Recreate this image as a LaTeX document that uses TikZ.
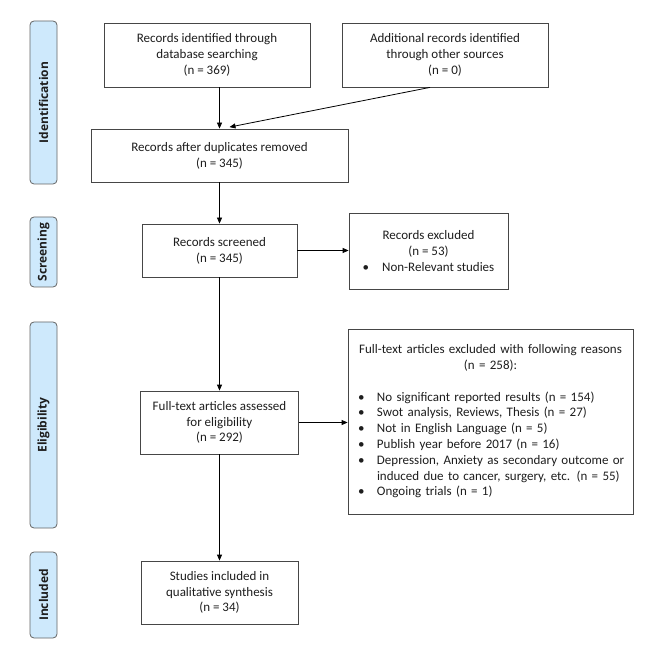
\documentclass[tikz,border=0pt]{standalone}
\usepackage{fontspec}
\setmainfont{Carlito}
\newfontfamily\barfont{Open Sans}
\usetikzlibrary{arrows.meta,calc}
\definecolor{barfill}{RGB}{206,233,252}
\definecolor{barline}{RGB}{100,100,100}
\definecolor{boxline}{RGB}{70,70,70}
\definecolor{txt}{RGB}{30,30,30}
\newcommand{\pbul}{\makebox[19pt][l]{\textbullet}}
\begin{document}
\begin{tikzpicture}[x=1pt,y=-1pt,
  every node/.style={font=\fontsize{13}{15.8}\selectfont, text=txt},
  box/.style={draw=boxline, line width=0.8pt, fill=white, inner sep=0pt, align=center},
  phase/.style={draw=barline, line width=0.8pt, fill=barfill, rounded corners=4pt, rotate=90,
     minimum height=27pt, inner sep=0pt, font=\barfont\bfseries\fontsize{12}{14}\selectfont},
  arr/.style={draw=black, line width=0.8pt, -{Triangle[length=6pt,width=5pt]}}]
\useasboundingbox (0,0) rectangle (664,652);
% phase bars
\node[phase, minimum width=163pt] (pid) at (43.5,102.5) {Identification};
\node[phase, minimum width=70pt] (psc) at (43.5,252) {Screening};
\node[phase, minimum width=206pt] (pel) at (43.5,425) {Eligibility};
\node[phase, minimum width=86pt] (pin) at (43.5,595) {Included};
% boxes
\node[box, minimum width=206pt, minimum height=64pt] (rid) at (207,55)
  {Records identified through\\database searching\\(n = 369)};
\node[box, minimum width=206pt, minimum height=64pt] (add) at (445,55)
  {Additional records identified\\through other sources\\(n = 0)};
\node[box, minimum width=257pt, minimum height=53pt] (dup) at (219.5,155.5)
  {Records after duplicates removed\\(n = 345)};
\node[box, minimum width=155pt, minimum height=53pt] (scr) at (219.5,250.5)
  {Records screened\\(n = 345)};
\node[box, minimum width=159pt, minimum height=76pt] (rex) at (428.5,251)
  {Records excluded\\(n = 53)\\\textbullet\hspace{13pt}Non-Relevant studies};
\node[box, minimum width=158pt, minimum height=63pt] (ass) at (219.5,422.5)
  {Full-text articles assessed\\for eligibility\\(n = 292)};
\node[box, minimum width=285pt, minimum height=185pt, text width=265pt, align=left] (fex) at (490.5,421.5)
  {\makebox[265pt][c]{Full-text articles excluded with following reasons}\\
   \makebox[265pt][c]{(n = 258):}\\[15.8pt]
   \pbul No significant reported results (n = 154)\\
   \pbul Swot analysis, Reviews, Thesis (n = 27)\\
   \pbul Not in English Language (n = 5)\\
   \pbul Publish year before 2017 (n = 16)\\
   \pbul\makebox[0pt][l]{Depression, Anxiety as secondary outcome or}\\
   \hspace*{19pt}induced due to cancer, surgery, etc. (n = 55)\\
   \pbul Ongoing trials (n = 1)};
\node[box, minimum width=157pt, minimum height=63pt] (inc) at (219.5,592.5)
  {Studies included in\\qualitative synthesis\\(n = 34)};
% connectors
\draw[arr] (rid.south -| dup.north) -- (dup.north);
\draw[arr] ([xshift=-15pt]add.south) -- ([xshift=10pt,yshift=1.5pt]dup.north);
\draw[arr] (dup.south) -- (scr.north);
\draw[arr] (scr.east) -- (scr.east -| rex.west);
\draw[arr] (scr.south) -- (ass.north);
\draw[arr] (ass.east) -- (ass.east -| fex.west);
\draw[arr] (ass.south) -- (inc.north);
\end{tikzpicture}
\end{document}
